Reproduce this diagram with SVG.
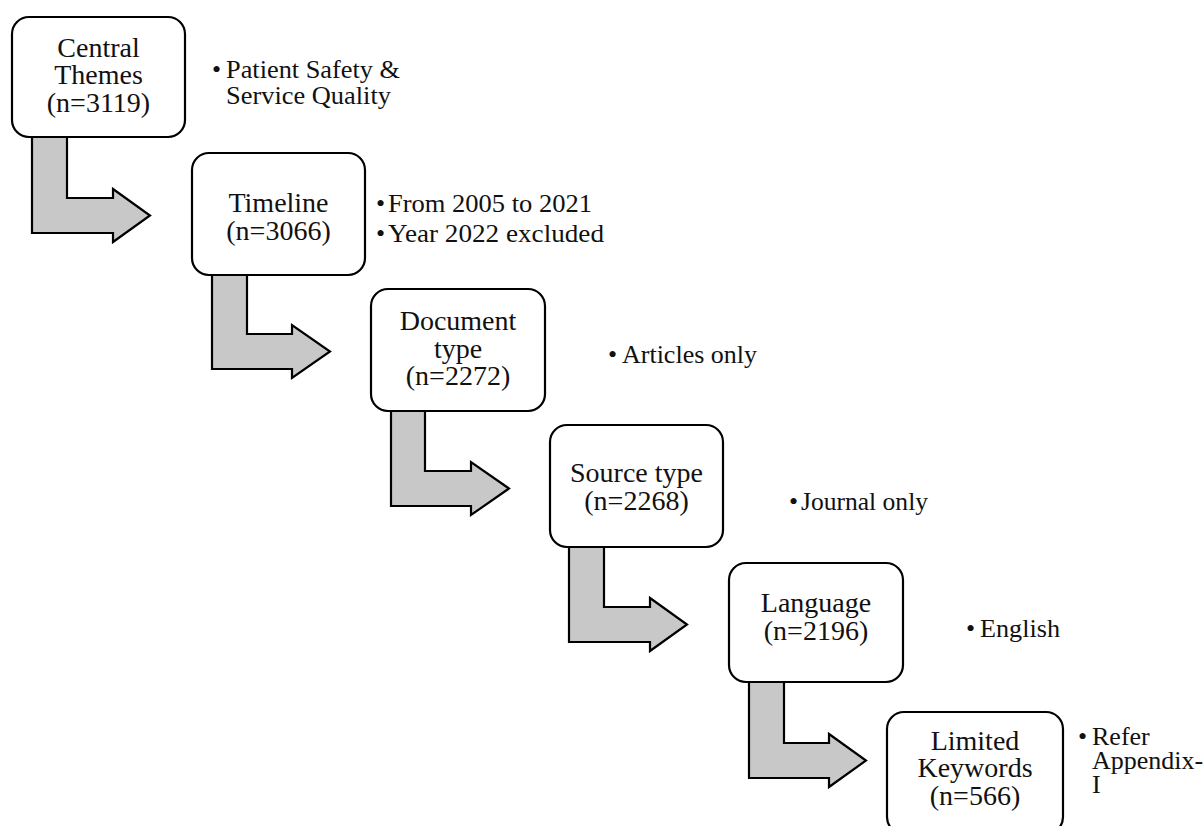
<svg xmlns="http://www.w3.org/2000/svg" width="1203" height="826" viewBox="0 0 1203 826">
<style>
.box{fill:#fff;stroke:#000;stroke-width:2.2}
.arr{fill:#c8c8c8;stroke:#000;stroke-width:2.2;stroke-linejoin:miter}
.bt{font-family:"Liberation Serif","Times New Roman",serif;font-size:28px;fill:#111;text-anchor:middle}
.st{font-family:"Liberation Serif","Times New Roman",serif;font-size:26px;fill:#111}
</style>
<rect width="1203" height="826" fill="#fff"/>
<g id="connectors">
<path class="arr" d="M32,137 H67 V198 H113 V189 L150,215.5 L113,242 V233 H32 Z"/>
<path class="arr" d="M212,275 H247 V334 H292 V325 L330,351.5 L292,378 V369 H212 Z"/>
<path class="arr" d="M391,411 H425 V471 H471 V462 L509,488.5 L471,515 V506 H391 Z"/>
<path class="arr" d="M569,547 H604 V607 H650 V598 L687,624.5 L650,651 V642 H569 Z"/>
<path class="arr" d="M749,682 H784 V743 H829 V734 L866,760.5 L829,787 V778 H749 Z"/>
</g>
<g id="node-central">
<rect class="box" x="12" y="17" width="173" height="120" rx="17"/>
<text class="bt" x="98.5" y="57">Central</text>
<text class="bt" x="98.5" y="84">Themes</text>
<text class="bt" x="98.5" y="112">(n=3119)</text>
<text class="st" x="212" y="78">•</text>
<text class="st" x="226" y="78" textLength="174" lengthAdjust="spacingAndGlyphs">Patient Safety &amp;</text>
<text class="st" x="226" y="104" textLength="165" lengthAdjust="spacingAndGlyphs">Service Quality</text>
</g>
<g id="node-timeline">
<rect class="box" x="192" y="153" width="173" height="122" rx="17"/>
<text class="bt" x="278.5" y="212">Timeline</text>
<text class="bt" x="278.5" y="240">(n=3066)</text>
<text class="st" x="376" y="212">•</text>
<text class="st" x="388" y="212" textLength="204" lengthAdjust="spacingAndGlyphs">From 2005 to 2021</text>
<text class="st" x="376" y="242">•</text>
<text class="st" x="388" y="242" textLength="216" lengthAdjust="spacingAndGlyphs">Year 2022 excluded</text>
</g>
<g id="node-document">
<rect class="box" x="371" y="289" width="174" height="122" rx="17"/>
<text class="bt" x="458" y="330">Document</text>
<text class="bt" x="458" y="358">type</text>
<text class="bt" x="458" y="385">(n=2272)</text>
<text class="st" x="608" y="363">•</text>
<text class="st" x="622" y="363" textLength="135" lengthAdjust="spacingAndGlyphs">Articles only</text>
</g>
<g id="node-source">
<rect class="box" x="550" y="425" width="173" height="122" rx="17"/>
<text class="bt" x="636.5" y="482">Source type</text>
<text class="bt" x="636.5" y="510">(n=2268)</text>
<text class="st" x="789" y="510">•</text>
<text class="st" x="801" y="510" textLength="127" lengthAdjust="spacingAndGlyphs">Journal only</text>
</g>
<g id="node-language">
<rect class="box" x="729" y="563" width="174" height="119" rx="17"/>
<text class="bt" x="816" y="612">Language</text>
<text class="bt" x="816" y="640">(n=2196)</text>
<text class="st" x="966" y="637">•</text>
<text class="st" x="980" y="637" textLength="80" lengthAdjust="spacingAndGlyphs">English</text>
</g>
<g id="node-keywords">
<rect class="box" x="887" y="712" width="176" height="122" rx="17"/>
<text class="bt" x="975" y="750">Limited</text>
<text class="bt" x="975" y="777">Keywords</text>
<text class="bt" x="975" y="805">(n=566)</text>
<text class="st" x="1078" y="745">•</text>
<text class="st" x="1092" y="745">Refer</text>
<text class="st" x="1092" y="769">Appendix-</text>
<text class="st" x="1092" y="793">I</text>
</g>
</svg>
